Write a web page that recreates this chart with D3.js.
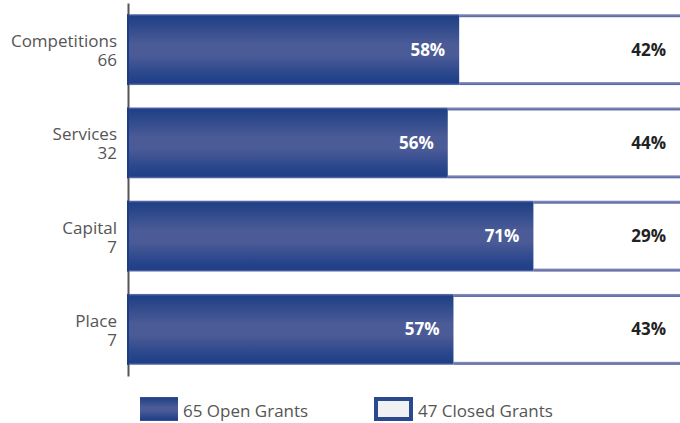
<!DOCTYPE html>
<html>
<head>
<meta charset="utf-8">
<script src="https://cdn.jsdelivr.net/npm/d3@7"></script>
<style>
  html, body { margin: 0; padding: 0; background: #fff; }
  svg { display: block; font-family: "Open Sans", "Noto Sans", sans-serif; }
</style>
</head>
<body>
<svg id="chart" width="680" height="423"></svg>
<script>
// Grant types, with the number of grants in each
const categories = ["Competitions", "Services", "Capital", "Place"];
const grantCounts = [66, 32, 7, 7];
// Share of each type that is open / closed (%)
const openShare = [58, 56, 71, 57];
const closedShare = [42, 44, 29, 43];
// Legend entries
const legendLabels = ["65 Open Grants", "47 Closed Grants"];

const svg = d3.select("#chart");
const defs = svg.append("defs");

// Raised look of the open segments: darker edges, lighter centre
const grad = defs.append("linearGradient")
  .attr("id", "openFill").attr("x1", 0).attr("y1", 0).attr("x2", 0).attr("y2", 1);
[[0, "#6a78ae"], [0.03, "#1f3f87"], [0.12, "#294689"], [0.42, "#4b5b97"],
 [0.58, "#4b5b97"], [0.88, "#26448a"], [0.97, "#1f3f87"], [1, "#6a78ae"]]
  .forEach(([o, c]) => grad.append("stop").attr("offset", o).attr("stop-color", c));

const edgeGrad = defs.append("linearGradient")
  .attr("id", "edgeFill").attr("x1", 0).attr("y1", 0).attr("x2", 0).attr("y2", 1);
[[0, "#8b93c0"], [1, "#55619f"]]
  .forEach(([o, c]) => edgeGrad.append("stop").attr("offset", o).attr("stop-color", c));

const x = d3.scaleLinear().domain([0, 100]).range([128, 699]);
const y = d3.scaleBand().domain(categories).range([3, 376])
  .paddingInner(0.24).paddingOuter(0.12);

const rows = categories.map((c, i) => ({
  cat: c, count: grantCounts[i], open: openShare[i], closed: closedShare[i]
}));

// Left axis line
svg.append("g")
  .attr("transform", `translate(${x(0)},0)`)
  .call(d3.axisLeft(y).tickSize(0).tickSizeOuter(0).tickFormat(""))
  .call(g => g.select(".domain").attr("stroke", "#555").attr("stroke-width", 2));

const row = svg.append("g").selectAll("g").data(rows).join("g")
  .attr("transform", d => `translate(0,${y(d.cat)})`);

const bh = y.bandwidth();
const edge = 3;

// Closed segment: white with a blue rule top and bottom
row.append("rect")
  .attr("x", d => x(d.open)).attr("y", 0)
  .attr("width", d => x(100) - x(d.open)).attr("height", bh)
  .attr("fill", "#fff");
row.append("rect")
  .attr("x", d => x(d.open)).attr("y", 0)
  .attr("width", d => x(100) - x(d.open)).attr("height", edge)
  .attr("fill", "url(#edgeFill)");
row.append("rect")
  .attr("x", d => x(d.open)).attr("y", bh - edge)
  .attr("width", d => x(100) - x(d.open)).attr("height", edge)
  .attr("fill", "url(#edgeFill)");

// Open segment
row.append("rect")
  .attr("x", x(0) - 1).attr("y", 0)
  .attr("width", d => x(d.open) - x(0) + 1).attr("height", bh)
  .attr("fill", "url(#openFill)");
row.append("rect")
  .attr("x", x(0) - 1).attr("y", 0)
  .attr("width", 2).attr("height", bh)
  .attr("fill", "#1d3c86");

// Percentage labels
row.append("text")
  .attr("x", d => x(d.open) - 14).attr("y", bh / 2 + 6)
  .attr("text-anchor", "end").attr("fill", "#fff")
  .attr("font-size", 17).attr("font-weight", 700)
  .text(d => d.open + "%");
row.append("text")
  .attr("x", 666).attr("y", bh / 2 + 6)
  .attr("text-anchor", "end").attr("fill", "#222")
  .attr("font-size", 17).attr("font-weight", 700)
  .text(d => d.closed + "%");

// Category labels with counts
const lab = row.append("text")
  .attr("text-anchor", "end").attr("fill", "#555").attr("font-size", 17);
lab.append("tspan").attr("x", 117).attr("y", bh / 2 - 2.5).text(d => d.cat);
lab.append("tspan").attr("x", 117).attr("y", bh / 2 + 16.5).text(d => d.count);

// Legend
const leg = svg.append("g");
leg.append("rect").attr("x", 140).attr("y", 397).attr("width", 38).attr("height", 24)
  .attr("fill", "url(#openFill)");
leg.append("text").attr("x", 183).attr("y", 416.5).attr("fill", "#555")
  .attr("font-size", 17).text(legendLabels[0]);
leg.append("rect").attr("x", 376).attr("y", 399).attr("width", 35).attr("height", 20)
  .attr("fill", "#f0f1f3").attr("stroke", "#2a4a90").attr("stroke-width", 4);
leg.append("text").attr("x", 418).attr("y", 416.5).attr("fill", "#555")
  .attr("font-size", 17).text(legendLabels[1]);
</script>
</body>
</html>
